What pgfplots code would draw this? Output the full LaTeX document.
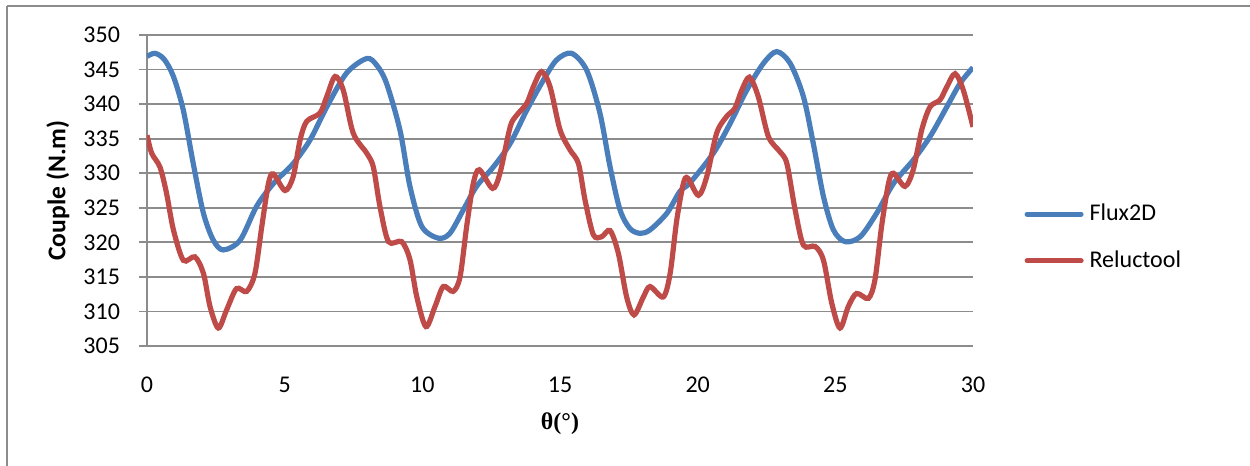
\documentclass[border=0pt]{standalone}
\usepackage{pgfplots}
\pgfplotsset{compat=1.18}
\usepackage{fontspec}
\setmainfont{Carlito}
\newfontfamily\serifbold{Liberation Serif}
\definecolor{fluxblue}{HTML}{4A7EBB}
\definecolor{relred}{HTML}{BE4B48}
\definecolor{gridgray}{HTML}{8C8C8C}
\begin{document}
\begin{tikzpicture}
\useasboundingbox (0,0) rectangle (625pt,233pt);
\draw[gridgray, line width=0.9pt] (3.5pt,233pt) ++(0,-3pt) -- (3.5pt,0pt);
\draw[gridgray, line width=0.9pt] (3.5pt,230pt) -- (625pt,230pt);
\begin{axis}[
  at={(73.5pt,60pt)}, anchor=south west,
  scale only axis, width=413pt, height=155.5pt,
  xmin=0, xmax=30, ymin=305, ymax=350,
  xtick={0,5,...,30}, ytick={305,310,...,350},
  ymajorgrids, grid style={gridgray, line width=0.9pt},
  axis x line*=bottom, axis y line*=left,
  axis line style={gridgray, line width=0.9pt},
  x axis line style={-}, y axis line style={-},
  major tick length=4pt,
  xtick style={draw=none},
  ytick style={gridgray, line width=0.9pt},
  tick align=outside,
  /pgf/number format/assume math mode=true,
  ticklabel style={font=\fontsize{12}{14}\selectfont},
  xticklabel style={yshift=-8pt},
  yticklabel style={xshift=-6pt},
  ylabel={\textbf{Couple (N.m)}},
  ylabel style={font=\fontsize{12.8}{14}\selectfont, at={(axis description cs:-0.108,0.5)}, anchor=center},
  xlabel={\serifbold\bfseries θ(°)},
  xlabel style={font=\fontsize{12}{14}\selectfont, yshift=-3pt},
  legend style={at={(1.062,0.349)}, anchor=west, draw=none, fill=none,
    font=\fontsize{12}{14}\selectfont, inner sep=0pt, row sep=13.5pt,
    nodes={inner sep=0pt}},
  legend cell align=left,
  legend image code/.code={\draw[#1, line width=2.5pt, line cap=round] (0pt,0pt) -- (27pt,0pt);},
  /tikz/every odd column/.append style={column sep=3pt},
]
\addplot[fluxblue, line width=2.6pt, smooth, tension=0.5] coordinates {
(0,346.9) (0.29,347.35) (0.62,346.5) (0.96,344.0) (1.32,339.1) (1.68,331.4) (2.05,324.2)
(2.41,320.3) (2.77,318.9) (3.38,320.3) (3.98,325.2) (4.59,328.5) (5.31,331.4)
(5.92,334.8) (6.53,339.6) (7.25,344.5) (7.98,346.6) (8.35,345.6) (8.7,343.0) (9.19,336.2)
(9.55,328.1) (9.98,322.3) (10.58,320.6) (11.0,321.3) (11.49,324.7) (11.97,328.1)
(12.58,330.9) (13.19,334.3) (13.79,339.1) (14.4,343.5) (14.88,346.4) (15.42,347.35)
(15.97,344.9) (16.45,338.7) (16.82,330.9) (17.18,324.7) (17.54,322.0) (17.91,321.3)
(18.27,321.8) (18.88,324.2) (19.36,327.4) (19.72,328.6) (20.57,332.9) (21.18,337.2)
(21.78,342.0) (22.39,345.9) (22.87,347.6) (23.36,345.9) (23.84,341.1) (24.2,334.3)
(24.57,326.6) (24.93,321.8) (25.35,320.1) (25.9,320.8) (26.5,324.2) (27.11,328.5)
(27.83,331.9) (28.44,335.3) (29.05,339.6) (29.53,343.0) (30,345.3)
};
\addlegendentry{Flux2D}
\addplot[relred, line width=2.6pt, smooth, tension=0.5] coordinates {
(0,335.5) (0.17,332.9) (0.47,330.9) (0.71,327.1) (0.96,321.8) (1.32,317.4)
(1.74,317.9) (2.05,315.5) (2.29,310.7) (2.59,307.6) (2.89,310.2) (3.25,313.3)
(3.62,312.9) (3.92,315.5) (4.17,322.3) (4.41,328.5) (4.59,329.9) (5.01,327.5)
(5.31,329.5) (5.56,334.8) (5.80,337.5) (6.28,338.7) (6.53,341.1) (6.83,344.0)
(7.13,342.0) (7.49,335.8) (7.98,332.9) (8.22,330.9) (8.46,325.2) (8.77,320.1)
(9.25,320.1) (9.55,317.5) (9.8,312.1) (10.13,307.8) (10.46,310.7) (10.76,313.6)
(11.12,312.9) (11.37,315.0) (11.61,322.3) (11.85,328.5) (12.07,330.5) (12.55,327.8)
(12.82,330.0) (13.19,336.7) (13.43,338.4) (13.79,340.1) (14.03,342.5) (14.33,344.7)
(14.64,342.5) (15.0,336.3) (15.36,333.4) (15.67,331.4) (15.91,326.1) (16.21,321.1)
(16.51,320.8) (16.82,321.7) (17.12,318.4) (17.42,312.1) (17.69,309.5) (18.03,312.1)
(18.27,313.6) (18.75,312.1) (19.0,315.5) (19.24,323.2) (19.48,328.5) (19.64,329.3)
(20.03,326.8) (20.33,329.5) (20.69,335.8) (21.05,338.2) (21.35,339.4) (21.6,342.0)
(21.88,343.9) (22.2,341.1) (22.57,335.3) (22.99,333.1) (23.24,331.4) (23.54,324.7)
(23.84,319.6) (24.27,319.4) (24.57,317.4) (24.87,311.2) (25.17,307.6) (25.47,310.7)
(25.77,312.6) (26.2,311.9) (26.44,314.6) (26.68,322.3) (26.93,328.5) (27.11,330.0)
(27.53,328.1) (27.83,330.5) (28.14,336.3) (28.44,339.6) (28.8,340.6) (29.05,342.5)
(29.35,344.4) (29.65,342.0) (30.0,336.7)
};
\addlegendentry{Reluctool}
\end{axis}
\end{tikzpicture}
\end{document}
